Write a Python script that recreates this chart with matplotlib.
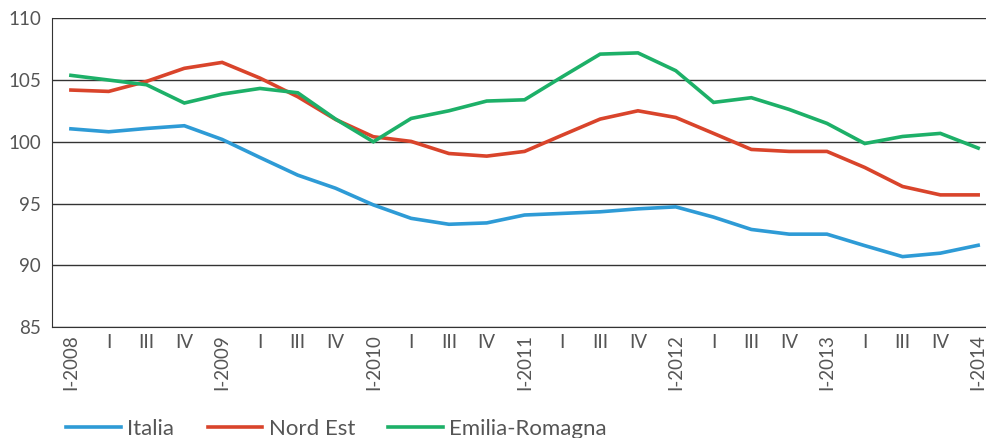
import matplotlib.pyplot as plt

# quarters, I-2008 .. I-2014
labels = ['I-2008', 'I', 'III', 'IV',
          'I-2009', 'I', 'III', 'IV',
          'I-2010', 'I', 'III', 'IV',
          'I-2011', 'I', 'III', 'IV',
          'I-2012', 'I', 'III', 'IV',
          'I-2013', 'I', 'III', 'IV',
          'I-2014']

italia = [101.05, 100.81, 101.08, 101.3, 100.19, 98.73, 97.3, 96.24, 94.89,
          93.8, 93.32, 93.43, 94.07, 94.2, 94.33, 94.57, 94.73, 93.9, 92.9,
          92.52, 92.52, 91.59, 90.7, 90.98, 91.62]
nord_est = [104.19, 104.08, 104.89, 105.95, 106.43, 105.16, 103.65, 101.81,
            100.41, 100.03, 99.05, 98.84, 99.22, 100.54, 101.84, 102.51,
            101.97, 100.68, 99.38, 99.22, 99.22, 97.92, 96.38, 95.7, 95.7]
emilia = [105.38, 105.0, 104.62, 103.14, 103.86, 104.32, 103.97, 101.84,
          100.0, 101.89, 102.51, 103.3, 103.4, 105.27, 107.1, 107.2, 105.76,
          103.19, 103.57, 102.62, 101.49, 99.86, 100.43, 100.68, 99.49]

series = [('Italia', italia, '#2e9bd6'),
          ('Nord Est', nord_est, '#d9442b'),
          ('Emilia-Romagna', emilia, '#1db068')]

plt.rcParams['font.family'] = ['Lato', 'DejaVu Sans']

fig = plt.figure(figsize=(9.87, 4.38), dpi=100)
ax = fig.add_axes([0.0527, 0.2534, 0.946, 0.7048])

x = list(range(len(labels)))
for name, vals, col in series:
    ax.plot(x, vals, color=col, lw=2.6, label=name, solid_joinstyle='miter')

ax.set_ylim(85, 110)
ax.set_xlim(-0.5, len(labels) - 0.8)
ax.set_yticks([85, 90, 95, 100, 105, 110])
ax.yaxis.grid(True, color='#333333', lw=1.0)
ax.set_axisbelow(True)
for s in ['top', 'right']:
    ax.spines[s].set_visible(False)
ax.spines['left'].set_color('#333333')
ax.spines['bottom'].set_color('#333333')
ax.tick_params(axis='y', length=0, labelsize=13.5, labelcolor='#555555', pad=8)
ax.tick_params(axis='x', length=0, labelsize=13.5, labelcolor='#555555', pad=5)

ax.set_xticks(x)
ax.set_xticklabels(labels)
for t in ax.get_xticklabels():
    t.set_va('top')
    if '-' in t.get_text():
        t.set_rotation(90)

fig.legend(loc='center left', bbox_to_anchor=(55 / 987, 1 - 429 / 438),
           ncol=3, frameon=False, fontsize=16, handlelength=2.45,
           handletextpad=0.3, columnspacing=1.5, borderpad=0,
           labelcolor='#555555')

fig.savefig('out.png', dpi=100)
